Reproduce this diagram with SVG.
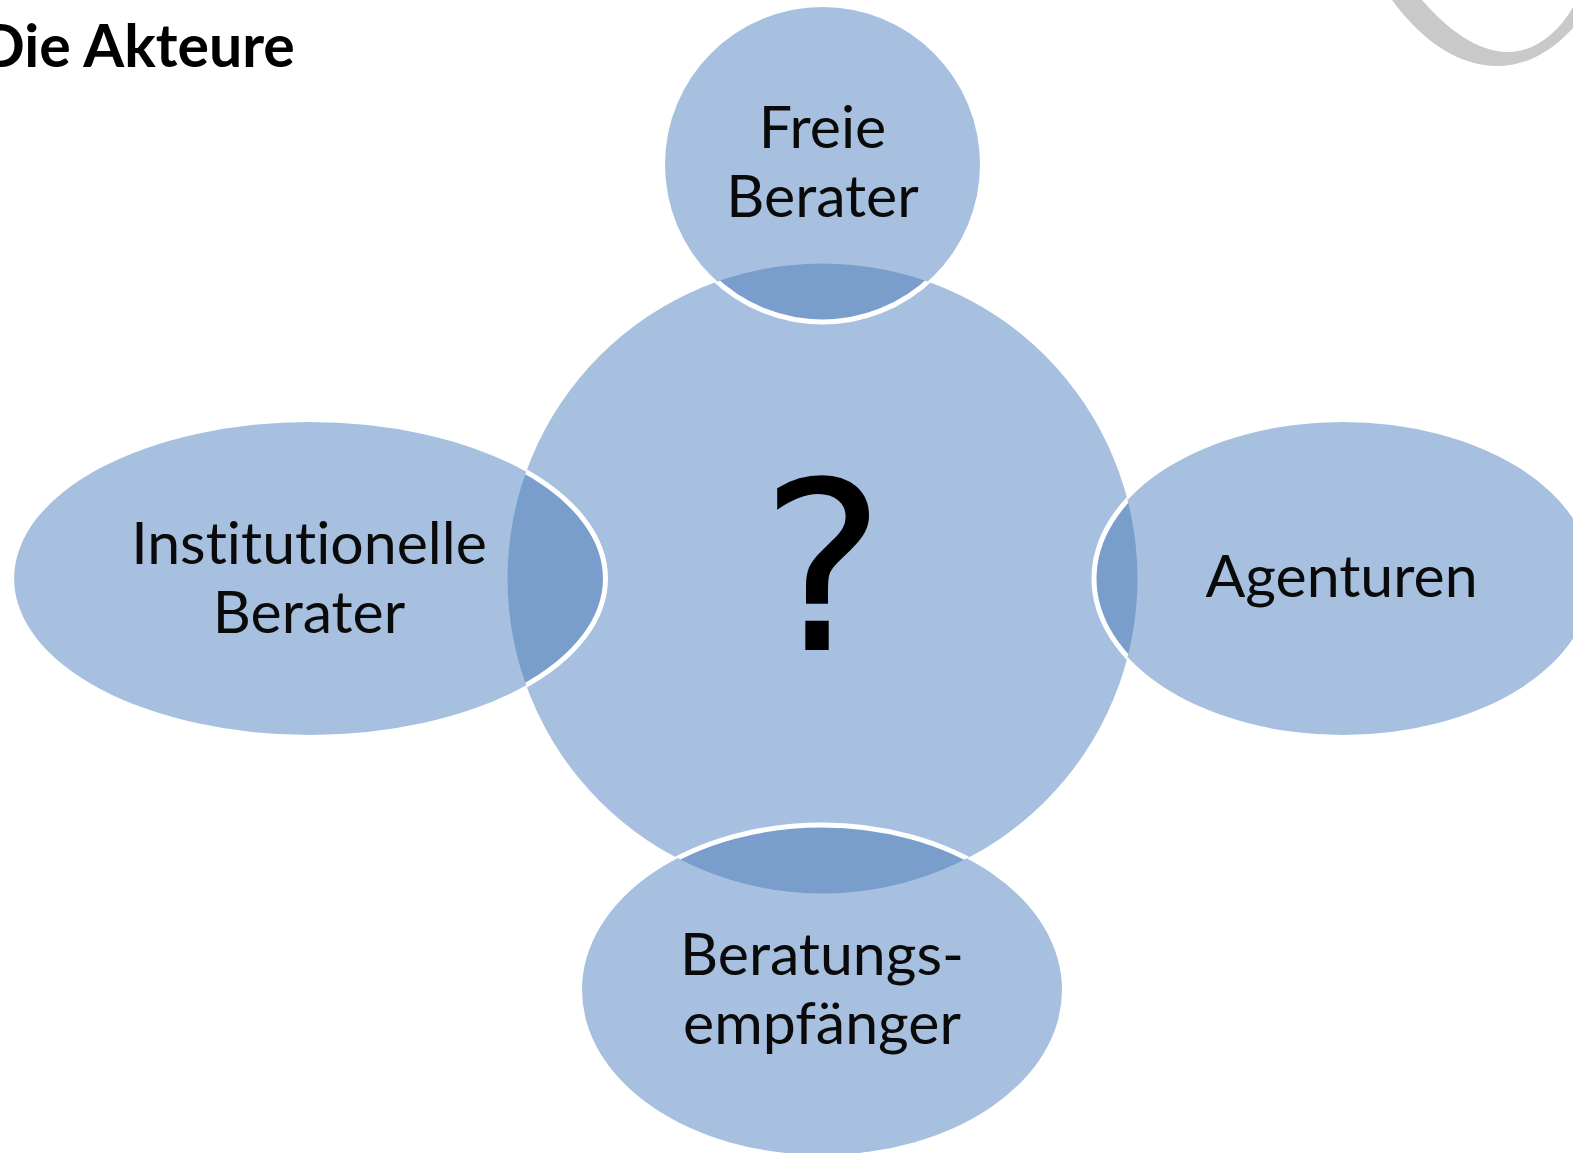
<svg xmlns="http://www.w3.org/2000/svg" width="1573" height="1153" viewBox="0 0 1573 1153">
<style>
.f{fill:#a7c0df}
.o{fill:#7a9ecb;stroke:none}
.w{fill:none;stroke:#fff;stroke-width:5}
text{font-family:Lato,"Liberation Sans",sans-serif;fill:#0a0a0a;text-anchor:middle;font-size:59px;font-variant-ligatures:none}
</style>
<defs>
<clipPath id="cc"><circle cx="822.500" cy="578.500" r="315"/></clipPath>
</defs>
<rect width="1573" height="1153" fill="#fff"/>
<path id="swoosh" fill="#c9c9c9" d="M1392 0C1425 45 1462 66 1497 66C1528 66 1553 50 1573 28L1573 7C1557 35 1533 52 1508 52C1478 52 1448 30 1422 0Z"/>
<text id="title" x="-20" y="67" style="text-anchor:start;font-weight:700;fill:#000">Die Akteure</text>
<g id="center"><circle class="f" cx="822.500" cy="578.500" r="315"/><text x="823" y="650" style="font-family:'DejaVu Sans',sans-serif;font-size:236px;fill:#000">?</text></g>
<g id="freie"><circle class="f" cx="822.500" cy="164.500" r="157.500"/><circle class="o" cx="822.500" cy="164.500" r="157.500" clip-path="url(#cc)"/><circle class="w" cx="822.500" cy="164.500" r="157.500" clip-path="url(#cc)"/><text x="822.500" y="148">Freie</text><text x="822.500" y="217">Berater</text></g>
<g id="institutionelle"><ellipse class="f" cx="309.800" cy="578.500" rx="295.700" ry="156.500"/><ellipse class="o" cx="309.800" cy="578.500" rx="295.700" ry="156.500" clip-path="url(#cc)"/><ellipse class="w" cx="309.800" cy="578.500" rx="295.700" ry="156.500" clip-path="url(#cc)"/><text x="309" y="564">Institutionelle</text><text x="309" y="633">Berater</text></g>
<g id="agenturen"><ellipse class="f" cx="1343" cy="578.500" rx="249" ry="156.500"/><ellipse class="o" cx="1343" cy="578.500" rx="249" ry="156.500" clip-path="url(#cc)"/><ellipse class="w" cx="1343" cy="578.500" rx="249" ry="156.500" clip-path="url(#cc)"/><text x="1341.500" y="597">Agenturen</text></g>
<g id="empfaenger"><ellipse class="f" cx="822" cy="990" rx="240" ry="165"/><ellipse class="o" cx="822" cy="990" rx="240" ry="165" clip-path="url(#cc)"/><ellipse class="w" cx="822" cy="990" rx="240" ry="165" clip-path="url(#cc)"/><text x="822" y="975">Beratungs-</text><text x="822" y="1044">empfänger</text></g>
</svg>
